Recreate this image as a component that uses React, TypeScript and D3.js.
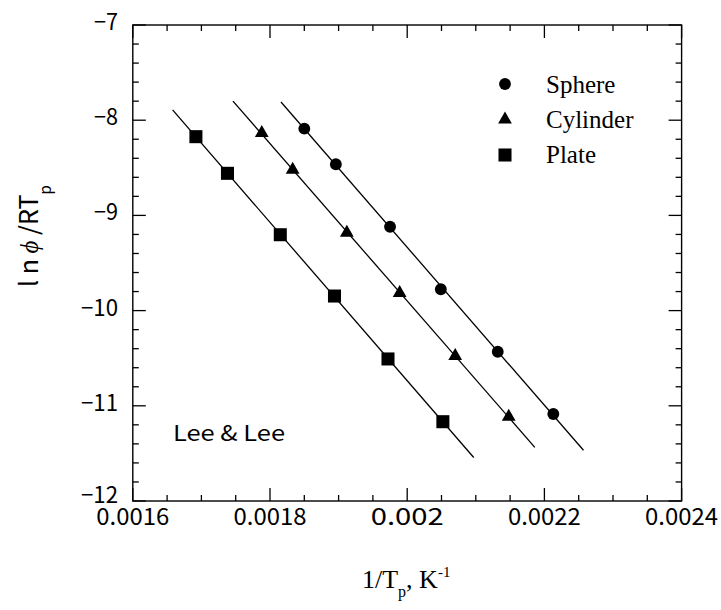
import React from "react";
import * as d3 from "d3";

// Peak data: 1/Tp (K^-1) against ln(phi/RTp) for three sample shapes
const seriesNames = ["Sphere", "Cylinder", "Plate"];
const sphereX = [0.00185, 0.001896, 0.001975, 0.002049, 0.002132, 0.002213];
const sphereY = [-8.089, -8.463, -9.119, -9.776, -10.432, -11.086];
const cylinderX = [0.001788, 0.001833, 0.001912, 0.001989, 0.00207, 0.002148];
const cylinderY = [-8.134, -8.52, -9.182, -9.815, -10.477, -11.114];
const plateX = [0.001692, 0.001738, 0.001815, 0.001894, 0.001972, 0.002052];
const plateY = [-8.173, -8.558, -9.203, -9.847, -10.508, -11.167];
// x extent of each fitted line
const fitStart = [0.001816, 0.001746, 0.001658];
const fitEnd = [0.002257, 0.002186, 0.002097];

const xTickLabels = [0.0016, 0.0018, 0.002, 0.0022, 0.0024];
const yTickLabels = [-7, -8, -9, -10, -11, -12];

const W = 721;
const H = 610;
const L = 132.8;
const R = 681.6;
const T = 25;
const B = 501;

const gothic = "'Noto Sans CJK JP', 'Noto Sans', sans-serif";
const serif = "'Liberation Serif', 'DejaVu Serif', serif";

function fit(xs: number[], ys: number[]) {
  const mx = d3.mean(xs)!;
  const my = d3.mean(ys)!;
  let sxy = 0;
  let sxx = 0;
  xs.forEach((x, i) => {
    sxy += (x - mx) * (ys[i] - my);
    sxx += (x - mx) * (x - mx);
  });
  const slope = sxy / sxx;
  return (x: number) => my + slope * (x - mx);
}

export default function App() {
  const x = d3.scaleLinear().domain([0.0016, 0.0024]).range([L, R]);
  const y = d3.scaleLinear().domain([-12, -7]).range([B, T]);

  const series = [
    { xs: sphereX, ys: sphereY, shape: d3.symbolCircle, size: 110 },
    { xs: cylinderX, ys: cylinderY, shape: d3.symbolTriangle, size: 82 },
    { xs: plateX, ys: plateY, shape: d3.symbolSquare, size: 170 },
  ];

  const xMinor = d3.range(0, 17).map((i) => 0.0016 + i * 0.00005);
  const yMinor = d3.range(0, 26).map((i) => -12 + i * 0.2);

  const line = d3
    .line<[number, number]>()
    .x((d) => x(d[0]))
    .y((d) => y(d[1]));

  const tickColor = "#000";
  const sw = 1.3;

  return (
    <svg width={W} height={H} style={{ display: "block", position: "absolute", left: 0, top: 0 }}>
      <rect width={W} height={H} fill="#fff" />

      {/* x ticks, bottom and top, inward */}
      {xMinor.map((v, i) => {
        const len = i % 4 === 0 ? 13 : 6;
        const px = x(v);
        return (
          <g key={"xt" + i}>
            <line x1={px} x2={px} y1={B} y2={B - len} stroke={tickColor} strokeWidth={sw} />
            <line x1={px} x2={px} y1={T} y2={T + len} stroke={tickColor} strokeWidth={sw} />
          </g>
        );
      })}
      {/* y ticks, left and right, inward */}
      {yMinor.map((v, i) => {
        const len = i % 5 === 0 ? 13 : 6;
        const py = y(v);
        return (
          <g key={"yt" + i}>
            <line x1={L} x2={L + len} y1={py} y2={py} stroke={tickColor} strokeWidth={sw} />
            <line x1={R} x2={R - len} y1={py} y2={py} stroke={tickColor} strokeWidth={sw} />
          </g>
        );
      })}

      <rect x={L} y={T} width={R - L} height={B - T} fill="none" stroke="#000" strokeWidth={1.4} />

      {/* tick labels */}
      {xTickLabels.map((v) => (
        <text
          key={"xl" + v}
          x={x(v)}
          y={525}
          textAnchor="middle"
          fontFamily={gothic}
          fontSize={23}
          textLength={73}
          lengthAdjust="spacingAndGlyphs"
        >
          {String(v)}
        </text>
      ))}
      {yTickLabels.map((v) => {
        const s = "\u2212" + String(Math.abs(v));
        return (
          <text
            key={"yl" + v}
            x={118}
            y={y(v) + (v === -12 ? 2 : 5)}
            textAnchor="end"
            fontFamily={gothic}
            fontSize={23}
            textLength={s.length > 2 ? 37 : 24}
            lengthAdjust="spacingAndGlyphs"
          >
            {s}
          </text>
        );
      })}

      {/* fitted lines */}
      {series.map((s, i) => {
        const f = fit(s.xs, s.ys);
        const pts: [number, number][] = [
          [fitStart[i], f(fitStart[i])],
          [fitEnd[i], f(fitEnd[i])],
        ];
        return <path key={"fl" + i} d={line(pts)!} stroke="#000" strokeWidth={1.3} fill="none" />;
      })}

      {/* markers */}
      {series.map((s, i) =>
        s.xs.map((xv, j) => (
          <path
            key={"m" + i + "-" + j}
            d={d3.symbol().type(s.shape).size(s.size)()!}
            transform={`translate(${x(xv)},${y(s.ys[j])})`}
            fill="#000"
          />
        ))
      )}

      {/* legend */}
      {seriesNames.map((name, i) => (
        <g key={"lg" + name}>
          <path
            d={d3.symbol().type(series[i].shape).size(series[i].size)()!}
            transform={`translate(505,${84 + i * 35.5})`}
            fill="#000"
          />
          <text x={546} y={93 + i * 35} fontFamily={serif} fontSize={25}>
            {name}
          </text>
        </g>
      ))}

      <text
        x={173}
        y={441}
        fontFamily={gothic}
        fontSize={22}
        textLength={112}
        lengthAdjust="spacingAndGlyphs"
      >
        Lee &amp; Lee
      </text>

      {/* axis titles */}
      <text x={362} y={588} fontFamily={serif} fontSize={26}>
        1/T
        <tspan dy={9} fontSize={16}>p</tspan>
        <tspan dy={-9}>, K</tspan>
        <tspan dy={-11} fontSize={15}>-1</tspan>
      </text>

      <text transform="translate(38,287) rotate(-90)" fontFamily={gothic} fontSize={25}>
        <tspan>l n </tspan>
        <tspan fontFamily={serif} fontStyle="italic">ϕ</tspan>
        <tspan> /RT</tspan>
        <tspan dy={13} fontSize={15}>p</tspan>
      </text>
    </svg>
  );
}
